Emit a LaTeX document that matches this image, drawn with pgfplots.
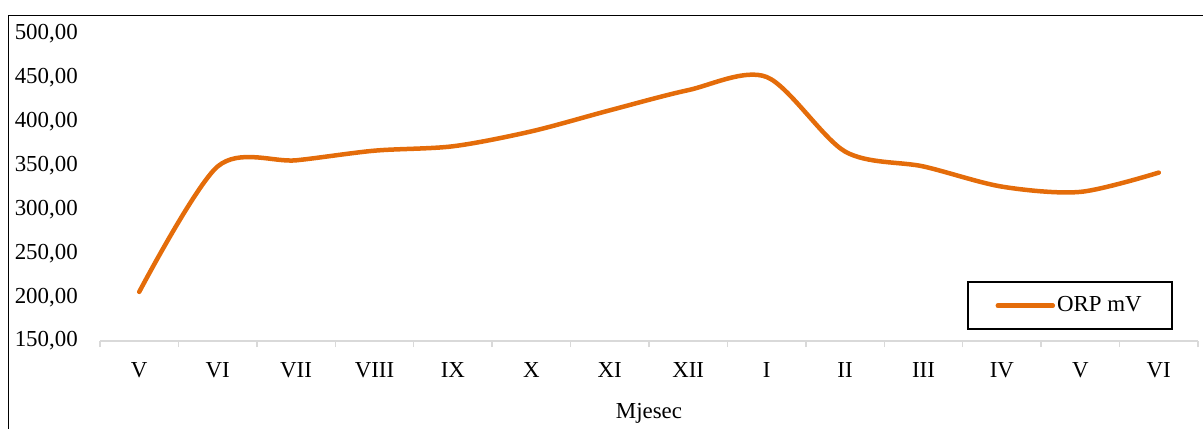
\documentclass[border=0pt]{standalone}
\usepackage{pgfplots}
\pgfplotsset{compat=1.18}
\usepackage{fontspec}
\setmainfont{Liberation Serif}
\definecolor{orp}{HTML}{E46C0A}
\definecolor{axgray}{HTML}{D9D9D9}
\begin{document}
\fontsize{23}{27}\selectfont
\begin{tikzpicture}[x=1bp,y=1bp]
\path[use as bounding box] (0,0) rectangle (1203,-428);
\draw[line width=1bp] (8,-470) -- (8,-15) -- (1250,-15);
\begin{axis}[
  at={(100bp,-341bp)}, anchor=south west,
  scale only axis, width=1098bp, height=307bp,
  xmin=0.5, xmax=14.5, ymin=150, ymax=500,
  axis x line*=bottom, axis y line*=left,
  x axis line style={draw=axgray, line width=1.5bp, -},
  y axis line style={draw=none},
  ytick={150,200,...,500},
  ytick style={draw=none},
  xtick={1,...,14},
  xticklabels={V,VI,VII,VIII,IX,X,XI,XII,I,II,III,IV,V,VI},
  minor xtick={0.5,1.5,...,14.5},
  major tick length=0pt, minor tick length=6bp,
  tick align=outside,
  minor x tick style={draw=axgray, line width=1.5bp},
  major x tick style={draw=none},
  x tick label style={anchor=base, inner sep=0pt, yshift=-36bp},
  y tick label style={/pgf/number format/fixed, /pgf/number format/fixed zerofill,
    /pgf/number format/precision=2, /pgf/number format/use comma,
    /pgf/number format/1000 sep={}, /pgf/number format/assume math mode=true,
    anchor=east, inner sep=0pt, xshift=-22bp},
  xlabel={Mjesec},
  xlabel style={at={(axis description cs:0.5,0)}, anchor=base, inner sep=0pt, yshift=-77bp},
  legend style={at={(0.977,0.036)}, anchor=south east, draw=black, line width=2bp,
    inner xsep=28bp, inner ysep=12bp, legend cell align=left,
    nodes={inner xsep=2bp}},
  legend image code/.code={\draw[#1, line width=4.5bp] (0bp,0bp) -- (55bp,0bp);},
  clip=false,
]
\addplot[orp, line width=4.5bp, line cap=round, smooth, tension=0.5] coordinates {
  (1,206) (2,349) (3,356) (4,367) (5,372) (6,389) (7,413)
  (8,436) (9,451) (10,366) (11,349) (12,326) (13,320) (14,342)
};
\addlegendentry{ORP mV}
\end{axis}
\end{tikzpicture}
\end{document}
